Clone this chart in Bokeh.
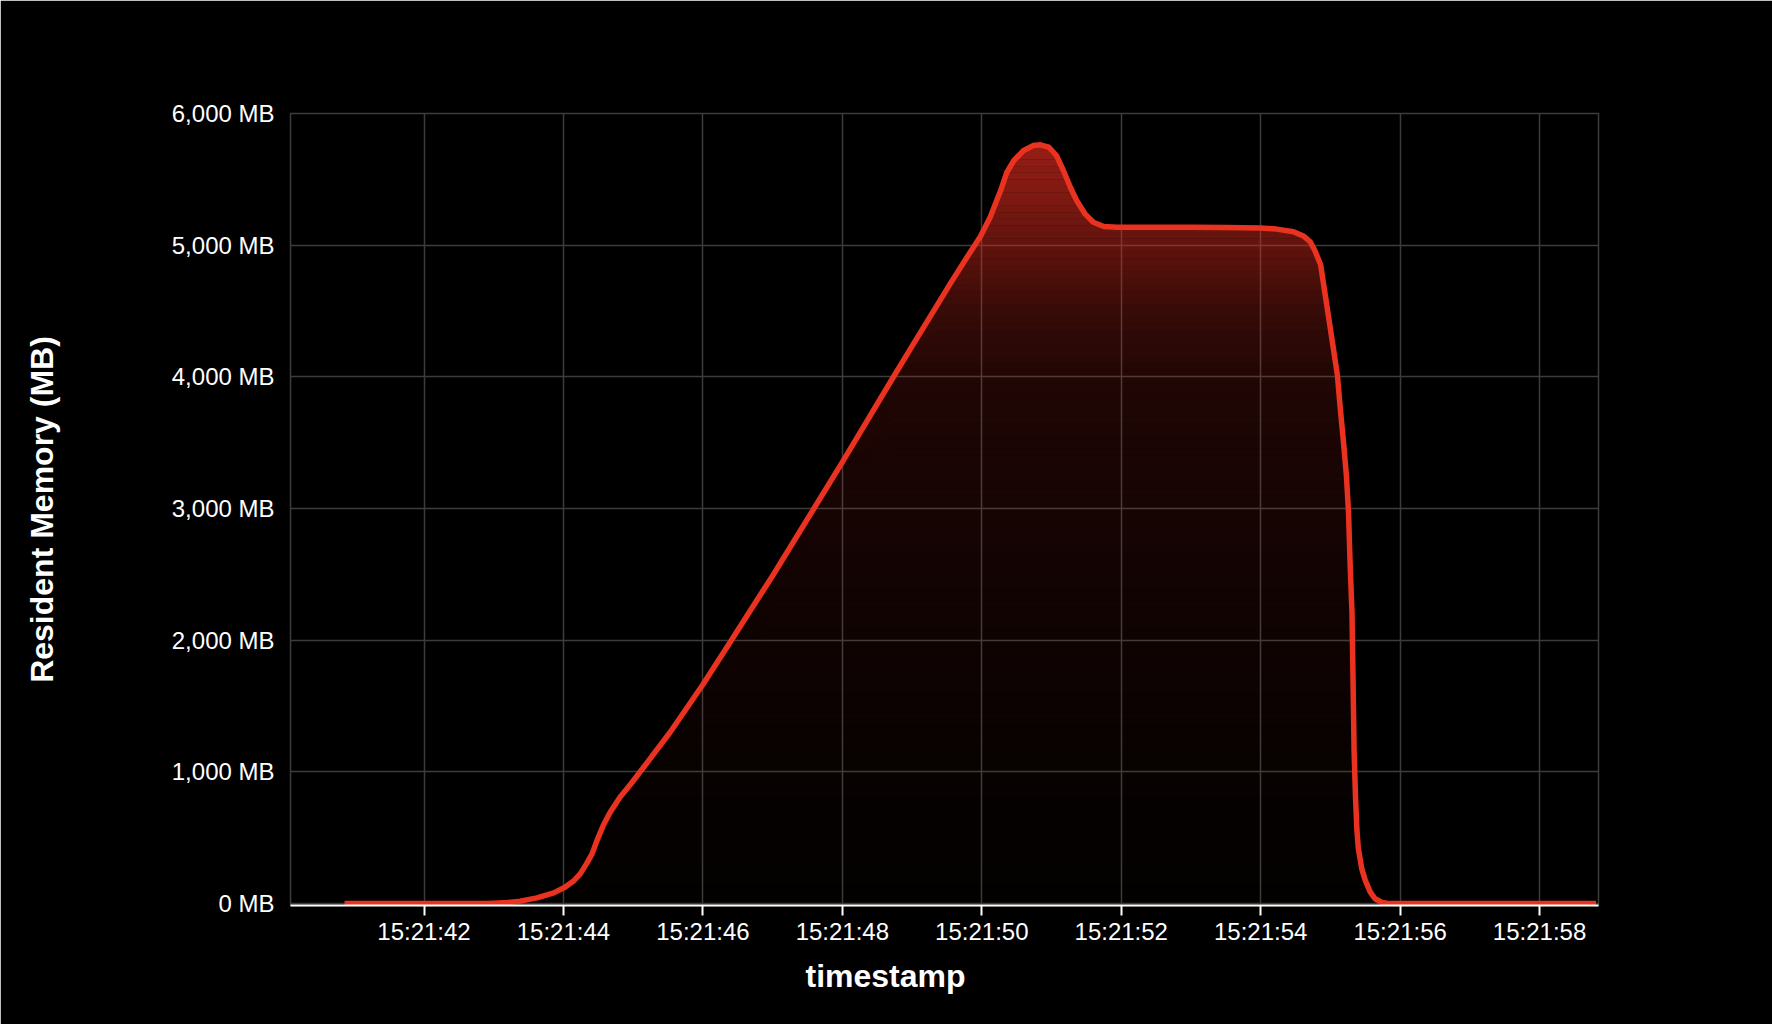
import numpy as np
import pandas as pd
from bokeh.plotting import figure
from bokeh.models import FixedTicker, Range1d, Title, DatetimeTickFormatter
from bokeh.embed import file_html
from bokeh.resources import INLINE

# ---------------- data ----------------
BASE = "2024-01-01 15:21:40"
seconds = [40.86, 41.5, 42.0, 42.5, 42.9, 43.0, 43.2, 43.38, 43.62, 43.86,
           44.02, 44.14, 44.24, 44.33, 44.41, 44.48, 44.57, 44.67, 44.81, 44.96,
           45.15, 45.53, 46.0, 46.39, 47.0, 47.59, 48.0, 48.73, 49.0, 49.36,
           49.55, 49.79, 49.98, 50.12, 50.27, 50.36, 50.46, 50.60, 50.74, 50.84,
           50.96, 51.07, 51.17, 51.27, 51.36, 51.48, 51.60, 51.75, 51.94, 52.5,
           53.0, 53.5, 54.0, 54.23, 54.47, 54.62, 54.71, 54.78, 54.86, 54.90,
           54.95, 55.02, 55.10, 55.14, 55.19, 55.23, 55.26, 55.28, 55.31, 55.32,
           55.33, 55.34, 55.36, 55.38, 55.40, 55.45, 55.50, 55.57, 55.64, 55.74,
           55.81, 56.0, 57.0, 58.0, 58.81]
memory_mb = [0, 0, 0, 0, 0, 2, 8, 18, 43, 81,
             124, 169, 225, 301, 377, 478, 592, 693, 807, 904,
             1035, 1301, 1663, 1985, 2490, 2998, 3352, 3997, 4233, 4545,
             4710, 4910, 5065, 5212, 5415, 5554, 5643, 5719, 5757, 5762,
             5744, 5681, 5567, 5440, 5339, 5238, 5174, 5142, 5137, 5137,
             5136, 5135, 5131, 5122, 5102, 5067, 5026, 4955, 4851, 4711,
             4537, 4293, 4013, 3769, 3490, 3246, 2966, 2618, 2199, 1851,
             1502, 1153, 804, 560, 420, 263, 176, 89, 36, 8,
             2, 0, 0, 0, 0]
x_tick_labels = ["15:21:42", "15:21:44", "15:21:46", "15:21:48", "15:21:50",
                 "15:21:52", "15:21:54", "15:21:56", "15:21:58"]
y_ticks = [0, 1000, 2000, 3000, 4000, 5000, 6000]
y_tick_labels = ["0 MB", "1,000 MB", "2,000 MB", "3,000 MB", "4,000 MB",
                 "5,000 MB", "6,000 MB"]

# ---------------- styles ----------------
LINE_COLOR = "#e9321f"
FILL_COLOR = (232, 46, 32)
GRID_COLOR = "#3c3c3c"
FONT = "Liberation Sans"
GRAD_LEVELS = [0, 1000, 2000, 3000, 4000, 4500, 5000, 5500, 6000]
GRAD_ALPHA = [0.01, 0.035, 0.065, 0.095, 0.14, 0.24, 0.42, 0.58, 0.70]

base = pd.Timestamp(BASE)
day = base.strftime("%Y-%m-%d")
times = base + pd.to_timedelta(np.array(seconds) - 40.0, unit="s")
vals = np.array(memory_mb, dtype=float)

x_tick_ms = [pd.Timestamp(f"{day} {t}").value / 1e6 for t in x_tick_labels]

p = figure(width=1772, height=1024, x_axis_type="datetime",
           output_backend="svg", toolbar_location=None,
           background_fill_color="black", border_fill_color="black",
           min_border_left=290, min_border_right=174,
           min_border_top=113, min_border_bottom=119)
p.x_range = Range1d(base + pd.Timedelta(seconds=0.085), base + pd.Timedelta(seconds=18.845))
p.y_range = Range1d(-15, 6000)

p.outline_line_color = GRID_COLOR
p.outline_line_width = 1.5

# grid
p.xgrid.ticker = FixedTicker(ticks=x_tick_ms)
p.ygrid.ticker = FixedTicker(ticks=y_ticks)
for g in (p.xgrid, p.ygrid):
    g.grid_line_color = GRID_COLOR
    g.grid_line_width = 1.5

# vertical gradient fill under the curve: thin translucent horizontal bands
step = 50
for lvl in np.arange(0, 6000, step):
    if vals.max() <= lvl:
        break
    a = float(np.interp(lvl + step / 2, GRAD_LEVELS, GRAD_ALPHA))
    p.varea(x=times, y1=np.minimum(vals, lvl), y2=np.minimum(vals, lvl + step),
            fill_color=FILL_COLOR, fill_alpha=a)

p.line(times, vals, line_color=LINE_COLOR, line_width=5.5, line_join="round")

# x axis
xa = p.xaxis[0]
xa.ticker = FixedTicker(ticks=x_tick_ms)
fmt = "%H:%M:%S"
xa.formatter = DatetimeTickFormatter(microseconds=fmt, milliseconds=fmt, seconds=fmt,
                                     minsec=fmt, minutes=fmt, hourmin=fmt, hours=fmt,
                                     days=fmt, months=fmt, years=fmt)
xa.axis_line_color = "white"
xa.axis_line_width = 2
xa.major_tick_line_color = "white"
xa.major_tick_line_width = 2
xa.major_tick_out = 10
xa.major_tick_in = 0
xa.minor_tick_line_color = None
xa.major_label_text_color = "white"
xa.major_label_text_font = FONT
xa.major_label_text_font_size = "24px"
xa.major_label_standoff = 2

# y axis
ya = p.yaxis[0]
ya.ticker = FixedTicker(ticks=y_ticks)
ya.major_label_overrides = {v: s for v, s in zip(y_ticks, y_tick_labels)}
ya.axis_line_color = None
ya.major_tick_line_color = None
ya.minor_tick_line_color = None
ya.major_tick_out = 0
ya.major_tick_in = 0
ya.major_label_text_color = "white"
ya.major_label_text_font = FONT
ya.major_label_text_font_size = "24px"
ya.major_label_standoff = 16
ya.axis_label = "Resident Memory (MB)"
ya.axis_label_text_color = "white"
ya.axis_label_text_font = FONT
ya.axis_label_text_font_style = "bold"
ya.axis_label_text_font_size = "32px"
ya.axis_label_standoff = 109

# x axis title (centred on the canvas rather than the frame)
p.add_layout(Title(text="timestamp", align="left", offset=515, standoff=16,
                   text_color="white", text_font=FONT, text_font_style="bold",
                   text_font_size="32px"), "below")

open("out.html", "w").write(file_html(p, INLINE))
